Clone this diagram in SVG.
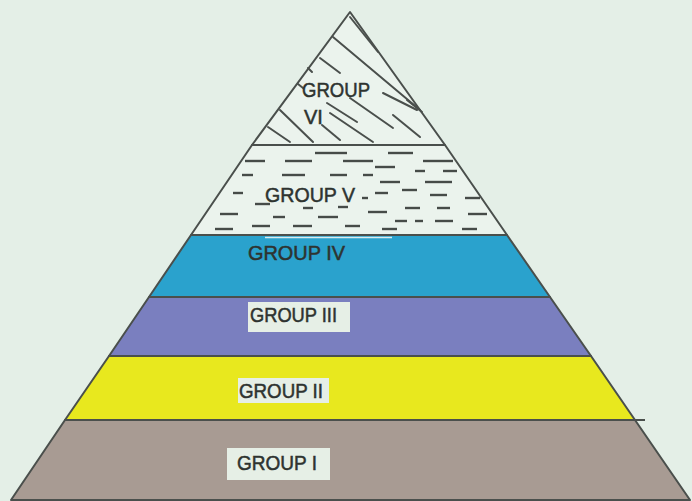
<svg xmlns="http://www.w3.org/2000/svg" width="692" height="501" viewBox="0 0 692 501">
<style>
.edge{stroke:#4a4f4c;stroke-width:2;stroke-linejoin:round}
.lbl{font-family:"Liberation Sans",Arial,sans-serif;font-size:20px;fill:#2e3330;stroke:#2e3330;stroke-width:0.5}
.hatch{stroke:#4a4f4c;stroke-width:2;stroke-linecap:round;fill:none}
.dash{stroke:#464b48;stroke-width:2.4;fill:none}
.tag{fill:#e6efe6}
</style>
<rect x="0" y="0" width="692" height="501" fill="#e4efe7"/>

<g id="group-vi">
  <polygon class="edge" fill="#ebf3ed" points="350,12 445,145 252,145"/>
  <g class="hatch">
    <line x1="350" y1="17" x2="378" y2="52"/>
    <line x1="333" y1="37" x2="420" y2="110"/>
    <line x1="320" y1="58" x2="340" y2="73"/>
    <line x1="308" y1="68" x2="312" y2="72"/>
    <line x1="383" y1="93" x2="417" y2="110"/>
    <line x1="350" y1="98" x2="393" y2="128"/>
    <line x1="327" y1="103" x2="357" y2="122"/>
    <line x1="330" y1="113" x2="373" y2="142"/>
    <line x1="393" y1="115" x2="420" y2="137"/>
    <line x1="280" y1="110" x2="313" y2="142"/>
    <line x1="268" y1="127" x2="290" y2="142"/>
    <line x1="322" y1="125" x2="340" y2="140"/>
    <line x1="407" y1="100" x2="422" y2="112"/>
    <line x1="298" y1="84" x2="303" y2="88"/>
  </g>
  <text class="lbl" x="302" y="97" font-size="19" textLength="68" lengthAdjust="spacingAndGlyphs">GROUP</text>
  <text class="lbl" x="304" y="124" font-size="19">VI</text>
</g>

<g id="group-v">
  <polygon class="edge" fill="#ebf3ed" points="252,145 445,145 507,235 191,235"/>
  <g class="dash">
    <line x1="315" y1="153" x2="347" y2="153"/><line x1="388" y1="153" x2="413" y2="153"/>
    <line x1="245" y1="161" x2="265" y2="161"/><line x1="285" y1="161" x2="312" y2="161"/><line x1="343" y1="161" x2="373" y2="161"/><line x1="423" y1="161" x2="453" y2="161"/>
    <line x1="375" y1="167" x2="395" y2="167"/>
    <line x1="415" y1="171" x2="425" y2="171"/><line x1="443" y1="171" x2="457" y2="171"/>
    <line x1="242" y1="175" x2="253" y2="175"/><line x1="282" y1="175" x2="305" y2="175"/><line x1="330" y1="175" x2="347" y2="175"/><line x1="363" y1="175" x2="373" y2="175"/>
    <line x1="380" y1="182" x2="400" y2="182"/><line x1="425" y1="182" x2="452" y2="182"/>
    <line x1="402" y1="190" x2="417" y2="190"/>
    <line x1="233" y1="193" x2="243" y2="193"/><line x1="375" y1="193" x2="388" y2="193"/>
    <line x1="430" y1="195" x2="447" y2="195"/>
    <line x1="362" y1="198" x2="368" y2="198"/><line x1="465" y1="198" x2="480" y2="198"/>
    <line x1="255" y1="204" x2="270" y2="204"/>
    <line x1="338" y1="207" x2="348" y2="207"/>
    <line x1="303" y1="208" x2="313" y2="208"/><line x1="405" y1="208" x2="420" y2="208"/><line x1="437" y1="208" x2="450" y2="208"/>
    <line x1="368" y1="212" x2="387" y2="212"/>
    <line x1="220" y1="214" x2="238" y2="214"/><line x1="468" y1="214" x2="487" y2="214"/>
    <line x1="273" y1="217" x2="285" y2="217"/><line x1="318" y1="217" x2="338" y2="217"/>
    <line x1="395" y1="221" x2="407" y2="221"/><line x1="415" y1="221" x2="423" y2="221"/><line x1="435" y1="221" x2="453" y2="221"/>
    <line x1="252" y1="226" x2="270" y2="226"/><line x1="293" y1="226" x2="312" y2="226"/><line x1="345" y1="226" x2="360" y2="226"/>
    <line x1="215" y1="229" x2="233" y2="229"/><line x1="382" y1="229" x2="397" y2="229"/><line x1="462" y1="229" x2="477" y2="229"/>
  </g>
  <text class="lbl" x="265" y="202" textLength="90" lengthAdjust="spacingAndGlyphs">GROUP V</text>
</g>

<g id="group-iv">
  <polygon class="edge" fill="#2aa2cd" points="191,235 507,235 550,297 149,297"/>
  <line x1="265" y1="237.5" x2="392" y2="237.5" stroke="#d8ecf0" stroke-width="1.5"/>
  <text class="lbl" x="248" y="260" textLength="97" lengthAdjust="spacingAndGlyphs">GROUP IV</text>
</g>

<g id="group-iii">
  <polygon class="edge" fill="#7a7fbf" points="149,297 550,297 591,356 109,356"/>
  <rect class="tag" x="248" y="302" width="102" height="30"/>
  <text class="lbl" x="250" y="322" textLength="87" lengthAdjust="spacingAndGlyphs">GROUP III</text>
</g>

<g id="group-ii">
  <polygon class="edge" fill="#e8e81e" points="109,356 591,356 635,420 65,420"/>
  <rect class="tag" x="238" y="378" width="91" height="25"/>
  <text class="lbl" x="239" y="398" textLength="84" lengthAdjust="spacingAndGlyphs">GROUP II</text>
</g>

<g id="group-i">
  <polygon class="edge" fill="#a89b93" points="65,420 635,420 690,500 11,500"/>
  <rect class="tag" x="227" y="448" width="103" height="32"/>
  <text class="lbl" x="237" y="470" textLength="80" lengthAdjust="spacingAndGlyphs">GROUP I</text>
</g>

<g id="connectors">
  <line class="edge" x1="635" y1="420" x2="645" y2="420"/>
</g>
</svg>
